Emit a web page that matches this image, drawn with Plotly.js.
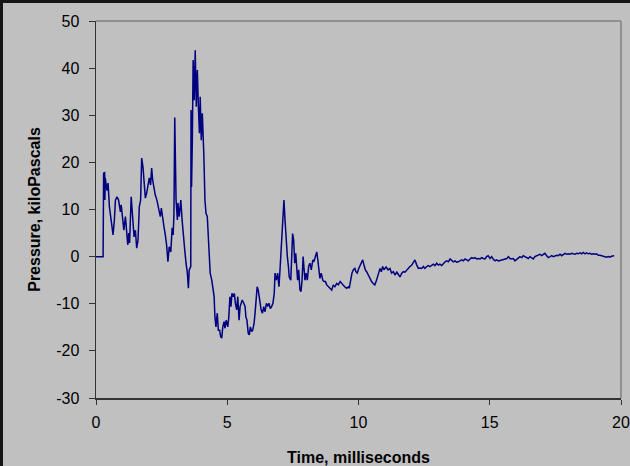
<!DOCTYPE html>
<html>
<head>
<meta charset="utf-8">
<script src="https://cdn.plot.ly/plotly-3.0.1.min.js"></script>
<style>
html, body { margin: 0; padding: 0; background: #151515; width: 630px; height: 466px; overflow: hidden; }
#chart { position: absolute; left: 3px; top: 3px; width: 627px; height: 463px; }
</style>
</head>
<body>
<div id="chart"></div>
<script>
// Time (milliseconds)
const timeMs = [
0, 0.27, 0.29, 0.33, 0.34, 0.35, 0.42, 0.46, 0.51, 0.58, 0.65, 0.70, 0.74, 0.80, 0.86, 0.93, 0.96, 1.02, 1.06, 1.12,
1.15, 1.21, 1.25, 1.28, 1.34, 1.40, 1.45, 1.50, 1.55, 1.60, 1.65, 1.70, 1.74, 1.79, 1.83, 1.88, 1.93, 1.98, 2.03, 2.08,
2.12, 2.16, 2.21, 2.26, 2.32, 2.39, 2.45, 2.49, 2.54, 2.59, 2.64, 2.69, 2.74, 2.79, 2.85, 2.90, 2.94, 2.97, 3.00, 3.02,
3.05, 3.10, 3.12, 3.17, 3.23, 3.28, 3.33, 3.38, 3.43, 3.48, 3.52, 3.55, 3.61, 3.62, 3.64, 3.67, 3.70, 3.74, 3.78, 3.82,
3.86, 3.90, 3.94, 3.97, 4.01, 4.05, 4.09, 4.11, 4.15, 4.19, 4.24, 4.28, 4.32, 4.35, 4.41, 4.45, 4.50, 4.53, 4.57, 4.62,
4.66, 4.71, 4.75, 4.79, 4.83, 4.88, 4.91, 4.96, 5.02, 5.06, 5.10, 5.14, 5.18, 5.23, 5.27, 5.31, 5.36, 5.40, 5.45, 5.49,
5.53, 5.57, 5.63, 5.68, 5.71, 5.75, 5.80, 5.84, 5.88, 5.93, 5.97, 6.02, 6.06, 6.10, 6.14, 6.18, 6.24, 6.29, 6.34, 6.39,
6.44, 6.49, 6.54, 6.59, 6.64, 6.69, 6.74, 6.79, 6.82, 6.87, 6.92, 6.97, 7.01, 7.06, 7.09, 7.12, 7.16, 7.20, 7.24, 7.29,
7.33, 7.36, 7.42, 7.45, 7.49, 7.53, 7.57, 7.61, 7.65, 7.68, 7.72, 7.77, 7.81, 7.85, 7.89, 7.92, 7.96, 8.00, 8.05, 8.10,
8.15, 8.20, 8.26, 8.30, 8.35, 8.41, 8.45, 8.50, 8.53, 8.58, 8.64, 8.69, 8.74, 8.79, 8.85, 8.91, 8.98, 9.04, 9.10, 9.17,
9.23, 9.30, 9.36, 9.42, 9.49, 9.55, 9.61, 9.65, 9.70, 9.75, 9.80, 9.86, 9.90, 9.95, 10.01, 10.06, 10.11, 10.16, 10.21, 10.26,
10.31, 10.37, 10.44, 10.50, 10.56, 10.62, 10.67, 10.72, 10.77, 10.82, 10.87, 10.92, 10.97, 11.05, 11.13, 11.20, 11.26, 11.33, 11.39, 11.46,
11.52, 11.58, 11.65, 11.71, 11.77, 11.84, 11.90, 11.96, 12.03, 12.09, 12.15, 12.22, 12.28, 12.34, 12.41, 12.47, 12.53, 12.60, 12.66, 12.72,
12.79, 12.85, 12.91, 12.98, 13.04, 13.10, 13.17, 13.23, 13.30, 13.36, 13.42, 13.49, 13.55, 13.61, 13.68, 13.74, 13.80, 13.87, 13.93, 13.99,
14.06, 14.12, 14.18, 14.25, 14.31, 14.37, 14.44, 14.50, 14.56, 14.63, 14.69, 14.75, 14.82, 14.88, 14.94, 15.01, 15.07, 15.13, 15.20, 15.26,
15.33, 15.46, 15.58, 15.65, 15.71, 15.77, 15.84, 15.90, 15.96, 16.03, 16.09, 16.15, 16.22, 16.28, 16.34, 16.41, 16.47, 16.53, 16.60, 16.66,
16.72, 16.79, 16.85, 16.91, 16.98, 17.04, 17.10, 17.17, 17.23, 17.30, 17.36, 17.42, 17.49, 17.55, 17.61, 17.68, 17.74, 17.80, 17.87, 17.93,
17.99, 18.06, 18.12, 18.18, 18.25, 18.31, 18.37, 18.44, 18.50, 18.56, 18.63, 18.69, 18.75, 18.82, 18.88, 18.94, 19.01, 19.07, 19.13, 19.20,
19.26, 19.32, 19.39, 19.45, 19.51, 19.58, 19.64, 19.71, 19.74
];
// Pressure (kiloPascals)
const pressureKPa = [
0, 0, 17.7, 17.8, 12, 16.7, 14, 15.6, 10.6, 7.8, 4.6, 7.8, 12, 12.7, 12, 9.5, 11, 7.8, 5.6, 8.5,
5.6, 2.5, 5, 2.9, 12.7, 7.8, 4.2, 5.6, 1.8, 3.5, 10.6, 12, 20.9, 19, 14.8, 12.4, 13.5, 14.8, 16.7, 15.2,
18.8, 16.2, 14.1, 13, 12, 9.9, 8.5, 10.3, 7.8, 6.3, 4.6, 2.5, -1.1, 2.1, 1, 6.1, 4.6, 9.2, 29.5, 19,
12, 7.8, 11.4, 8.5, 12, 7.8, 3.9, 1.4, -1.4, -3.5, -6.7, -2.8, -2.1, 31.1, 14.8, 24.7, 41.7, 33.2, 43.8, 31.8,
39.6, 31.8, 26.2, 33.9, 24.7, 30.4, 24.7, 21.2, 12, 9.2, 8.5, 3.5, 0.7, -3.5, -5, -7.1, -8.5, -12.8, -14.9, -12,
-15.6, -15.6, -17, -17.3, -14.9, -13.8, -15.2, -13.5, -14.9, -12.8, -8.5, -10.6, -7.8, -8.5, -7.8, -9.9, -11.3, -8.5, -13.5, -10.6,
-9.9, -9.2, -9.9, -10.6, -12.8, -13.5, -16.3, -16.6, -14.9, -15.9, -15.6, -14.2, -12, -7.8, -6.4, -7.1, -9.9, -11.3, -12, -10.6,
-11.7, -9.9, -10.6, -9.9, -11, -10.6, -9.9, -7.8, -3.5, -5, -3.5, -6.4, -2.8, 1.4, 5.6, 7.8, 12, 7.8, 3.5, 0,
-2.1, -4.3, -5, 0, 4.9, 3.5, -1.4, 0.7, -3.5, -5, -2.8, -7.1, -7.4, -5, 0, -2.8, -5, -3.5, -5, -2.1,
-1.4, -2.8, -0.7, -1.1, 0, 1, -0.7, -3.2, -4.6, -3.5, -5, -5.3, -5.3, -6, -6.4, -6.7, -7.1, -6, -6.4, -5.7,
-6, -5.3, -5.7, -6, -6.5, -6.7, -6.4, -6.7, -5, -3.5, -2.8, -2.5, -3.2, -3.5, -2.5, -1.8, -1.1, -0.7, -1.8, -2.8,
-3.2, -3.9, -4.6, -5.3, -5.7, -6, -5.3, -4.3, -3.5, -2.5, -3.2, -2.1, -2.8, -2.2, -2.8, -2.5, -3.5, -3.2, -3.9, -3.3,
-3.8, -4.3, -3.5, -3.2, -3.3, -2.8, -2.5, -2.1, -1.8, -1.1, -0.7, -1.8, -2.5, -2.4, -2.5, -2.1, -2.5, -2.1, -1.9, -2.1,
-1.8, -1.6, -1.9, -1.4, -1.8, -1.6, -1.9, -1.4, -1.1, -0.9, -1.1, -0.5, -0.9, -1.1, -0.9, -1.2, -1.1, -0.9, -0.7, -0.9,
-0.5, -0.7, -0.9, -0.5, -0.2, -0.4, -0.2, -0.5, -0.4, -0.5, -0.2, -0.4, -0.5, 0, 0.2, -0.4, 0, -0.5, -0.9, -0.7,
-0.9, -0.7, -0.5, -0.4, 0, -0.4, -0.5, -0.4, -0.9, -0.5, -0.2, 0, -0.2, 0.2, 0, -0.2, -0.4, 0, -0.2, -0.5,
0, 0.2, 0.3, 0.5, 0.2, 0.5, 0.7, 0.2, -0.2, 0, 0.2, 0, 0.2, 0.3, 0.2, 0.5, 0.2, 0.5, 0.7, 0.5,
0.6, 0.5, 0.7, 0.6, 0.5, 0.7, 0.6, 0.8, 0.6, 0.9, 0.6, 0.8, 0.6, 0.7, 0.5, 0.6, 0.5, 0.6, 0.3, 0.3,
0.2, 0.1, 0, -0.1, 0, -0.1, 0.1, 0.2, 0.2
];
const xTicks = [0, 5, 10, 15, 20];
const yTicks = [-30, -20, -10, 0, 10, 20, 30, 40, 50];

const font = "Liberation Sans, Arial, Helvetica, sans-serif";

const trace = {
  x: timeMs,
  y: pressureKPa,
  type: "scatter",
  mode: "lines",
  line: { color: "#000080", width: 1.5 },
  hoverinfo: "skip"
};

const layout = {
  width: 627,
  height: 463,
  margin: { l: 93, r: 9, t: 18, b: 68 },
  paper_bgcolor: "#C0C0C0",
  plot_bgcolor: "#C0C0C0",
  showlegend: false,
  font: { family: font, size: 16, color: "#000" },
  xaxis: {
    range: [0, 20],
    tickvals: xTicks,
    ticktext: xTicks.map(String),
    showgrid: false,
    zeroline: false,
    showline: true,
    linecolor: "#333",
    linewidth: 1.5,
    ticks: "outside",
    ticklen: 5,
    tickwidth: 1,
    tickcolor: "#333",
    ticklabelstandoff: 4,
    tickfont: { family: font, size: 16, color: "#000" },
    title: { text: "Time, milliseconds", font: { family: font, size: 16, color: "#000", weight: "bold" }, standoff: 22 },
    automargin: false,
    fixedrange: true
  },
  yaxis: {
    range: [-30, 50],
    tickvals: yTicks,
    ticktext: yTicks.map(String),
    showgrid: false,
    zeroline: false,
    showline: true,
    linecolor: "#333",
    linewidth: 1.5,
    ticks: "outside",
    ticklen: 6,
    tickwidth: 1,
    tickcolor: "#333",
    ticklabelstandoff: 6,
    tickfont: { family: font, size: 16, color: "#000" },
    title: { text: "Pressure, kiloPascals", font: { family: font, size: 16, color: "#000", weight: "bold" }, standoff: 11 },
    automargin: false,
    fixedrange: true
  },
  shapes: [
    { type: "line", xref: "paper", yref: "paper", x0: 0, x1: 1, y0: 1, y1: 1, line: { color: "#808080", width: 1.5 }, layer: "below" },
    { type: "line", xref: "paper", yref: "paper", x0: 1, x1: 1, y0: 0, y1: 1, line: { color: "#808080", width: 1.5 }, layer: "below" }
  ]
};

Plotly.newPlot("chart", [trace], layout, { displayModeBar: false, staticPlot: true });
</script>
</body>
</html>
